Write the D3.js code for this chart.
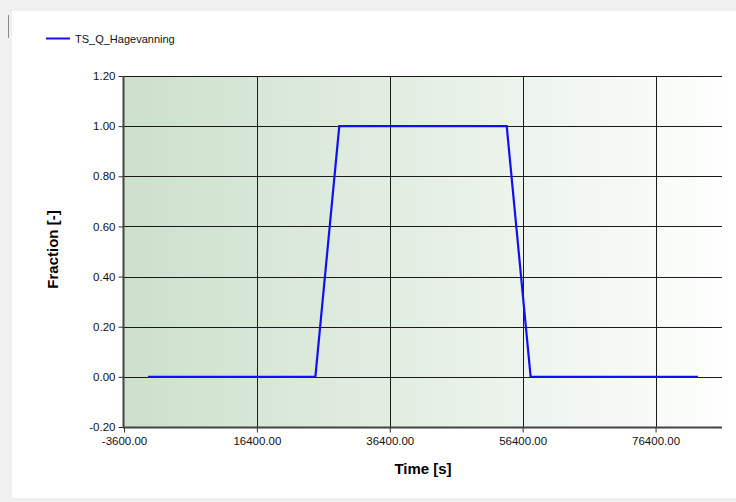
<!DOCTYPE html>
<html><head><meta charset="utf-8">
<script src="https://cdn.jsdelivr.net/npm/d3@7"></script>
<style>body{margin:0;background:#f0f0f0;}svg{display:block;}</style>
</head><body>
<svg id="c" width="736" height="502"></svg>
<script>
const seriesName = "TS_Q_Hagevanning";
const times = [0,3600,7200,10800,14400,18000,21600,25200,28800,32400,36000,39600,43200,46800,50400,54000,57600,61200,64800,68400,72000,75600,79200,82800];
const values = [0,0,0,0,0,0,0,0,1,1,1,1,1,1,1,1,0,0,0,0,0,0,0,0];
const xTicks = [-3600,16400,36400,56400,76400];
const yTicks = [-0.2,0,0.2,0.4,0.6,0.8,1.0,1.2];
const xTitle = "Time [s]", yTitle = "Fraction [-]";

const svg = d3.select("#c");
svg.append("rect").attr("x",12).attr("y",11).attr("width",724).attr("height",487).attr("fill","#fff");
svg.append("line").attr("x1",8.5).attr("x2",8.5).attr("y1",15).attr("y2",38).attr("stroke","#888").attr("stroke-width",1);

const L=124, R=722, T=76, B=427;
const x = d3.scaleLinear().domain([-3600,86400]).range([L,R]);
const y = d3.scaleLinear().domain([-0.2,1.2]).range([B,T]);

const defs = svg.append("defs");
const g = defs.append("linearGradient").attr("id","bg").attr("x1","0").attr("x2","1").attr("y1","0").attr("y2","0");
g.append("stop").attr("offset","0").attr("stop-color","rgb(204,224,204)");
g.append("stop").attr("offset","1").attr("stop-color","rgb(253,254,253)");
svg.append("rect").attr("x",L).attr("y",T).attr("width",R-L).attr("height",B-T).attr("fill","url(#bg)");

// grid
svg.append("g").selectAll("line").data(yTicks).join("line")
  .attr("x1",L).attr("x2",R).attr("y1",d=>Math.round(y(d))+0.5).attr("y2",d=>Math.round(y(d))+0.5)
  .attr("stroke","#1a1a1a").attr("stroke-width",1);
svg.append("g").selectAll("line").data(xTicks.slice(1)).join("line")
  .attr("y1",T).attr("y2",B).attr("x1",d=>Math.round(x(d))+0.5).attr("x2",d=>Math.round(x(d))+0.5)
  .attr("stroke","#1a1a1a").attr("stroke-width",1);

const fmt = d => d.toFixed(2);
const xa = svg.append("g").attr("transform",`translate(0,${B+0.5})`)
  .call(d3.axisBottom(x).tickValues(xTicks).tickFormat(fmt).tickSize(5).tickSizeOuter(0));
const ya = svg.append("g").attr("transform",`translate(${L-0.5},0)`)
  .call(d3.axisLeft(y).tickValues(yTicks).tickFormat(fmt).tickSize(5).tickSizeOuter(0));
[xa,ya].forEach(a=>{
  a.select(".domain").attr("stroke","#444").attr("stroke-width",2);
  a.selectAll(".tick line").attr("stroke","#333");
  a.selectAll("text").attr("fill","#111").style("font-family","Liberation Sans, Arial, sans-serif").style("font-size","11.5px");
});
xa.select(".domain").attr("d",`M${L-1},0H${R}`);
ya.select(".domain").attr("d",`M0,${T}V${B+1}`);
xa.selectAll(".tick text").attr("y",7).attr("dy","0.9em");
ya.selectAll("text").attr("x",-8);

const line = d3.line().x((d,i)=>x(times[i])).y(d=>y(d));
svg.append("path").datum(values).attr("d",line).attr("fill","none").attr("stroke","#1010f0").attr("stroke-width",2.2).attr("stroke-linejoin","miter");

svg.append("text").attr("x",(L+R)/2).attr("y",474).attr("text-anchor","middle")
  .style("font-family","Liberation Sans, Arial, sans-serif").style("font-size","15px").style("font-weight","bold").text(xTitle);
svg.append("text").attr("transform",`translate(58,${(T+B)/2-2}) rotate(-90)`).attr("text-anchor","middle")
  .style("font-family","Liberation Sans, Arial, sans-serif").style("font-size","15px").style("font-weight","bold").text(yTitle);

svg.append("line").attr("x1",46).attr("x2",70).attr("y1",38.5).attr("y2",38.5).attr("stroke","#1010f0").attr("stroke-width",2);
svg.append("text").attr("x",75).attr("y",42.5).style("font-family","Liberation Sans, Arial, sans-serif").style("font-size","11px").attr("fill","#111").text(seriesName);
</script>
</body></html>
